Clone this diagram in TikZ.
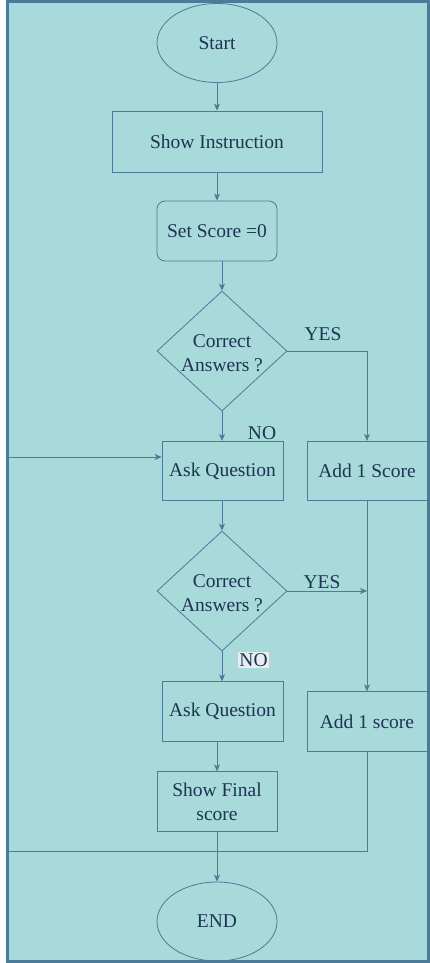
\documentclass[tikz,border=0pt]{standalone}
\usepackage{fontspec}
\setmainfont{Liberation Serif}
\usetikzlibrary{shapes.geometric,arrows.meta}
\definecolor{bgfill}{HTML}{A8D9DB}
\definecolor{edge}{HTML}{4A7C9A}
\definecolor{txt}{HTML}{1C3550}
\definecolor{nobg}{HTML}{E8EEF0}
\begin{document}
\begin{tikzpicture}[x=1pt,y=-1pt,
  every node/.style={font=\fontsize{19.5}{24}\selectfont, text=txt, align=center},
  box/.style={draw=edge, line width=0.8pt, rectangle, inner sep=0pt},
  oval/.style={draw=edge, line width=0.8pt, ellipse, inner sep=0pt, minimum width=120pt, minimum height=79pt},
  dia/.style={draw=edge, line width=0.8pt, diamond, inner sep=0pt, minimum width=130pt, minimum height=120pt},
  conn/.style={draw=edge, line width=0.8pt},
  arr/.style={conn, -{Stealth[length=7pt,width=6pt,inset=2pt]}},
  lbl/.style={inner sep=1pt}
]
\useasboundingbox (0,0) rectangle (430,963);
\fill[white] (0,0) rectangle (430,963);
\draw[edge, fill=bgfill, line width=3pt] (7.5,1.5) rectangle (428.5,961.5);

\node[oval] (start) at (217,43) {Start};
\node[box, minimum width=210pt, minimum height=61pt] (showins) at (217,141.5) {Show Instruction};
\node[box, rounded corners=8pt, minimum width=120pt, minimum height=60pt] (setscore) at (217,231) {Set Score =0};
\node[dia] (dec1) at (222,351) {};
\node (dec1t) at (222,353) {Correct\\Answers ?};
\node[box, minimum width=121pt, minimum height=59.5pt] (ask1) at (222.5,471) {Ask Question};
\node[box, minimum width=120pt, minimum height=59.5pt] (add1) at (367,471) {Add 1 Score};
\node[dia] (dec2) at (222,591) {};
\node (dec2t) at (222,593) {Correct\\Answers ?};
\node[box, minimum width=121pt, minimum height=59.5pt] (ask2) at (222.5,711.5) {Ask Question};
\node[box, minimum width=120pt, minimum height=59.5pt] (add2) at (367,721.5) {Add 1 score};
\node[box, minimum width=120pt, minimum height=59.5pt] (final) at (217,801.5) {Show Final\\score};
\node[oval] (end) at (217,921.5) {END};

\node[lbl] (yes1) at (323,334) {YES};
\node[lbl] (no1) at (262,433) {NO};
\node[lbl] (yes2) at (322,582) {YES};
\node[lbl, fill=nobg, inner sep=1.5pt] (no2) at (253.5,660) {NO};

\coordinate (lin) at (9,457);
\coordinate (lout) at (9,851);

\draw[arr] (start.south) -- (showins.north);
\draw[arr] (showins.south) -- (setscore.north);
\draw[arr] (setscore.south -| dec1.north) -- (dec1.north);
\draw[arr] (dec1.east) -| (add1.north);
\draw[arr] (dec1.south) -- (ask1.north -| dec1.south);
\draw[arr] (lin) -- (lin -| ask1.west);
\draw[arr] (ask1.south -| dec2.north) -- (dec2.north);
\draw[arr] (dec2.east) -- (add1.south |- dec2.east);
\draw[arr] (add1.south) -- (add2.north);
\draw[arr] (dec2.south) -- (ask2.north -| dec2.south);
\draw[arr] (ask2.south -| final.north) -- (final.north);
\draw[arr] (final.south) -- (end.north);
\draw[conn] (add2.south) |- (lout);
\end{tikzpicture}
\end{document}
